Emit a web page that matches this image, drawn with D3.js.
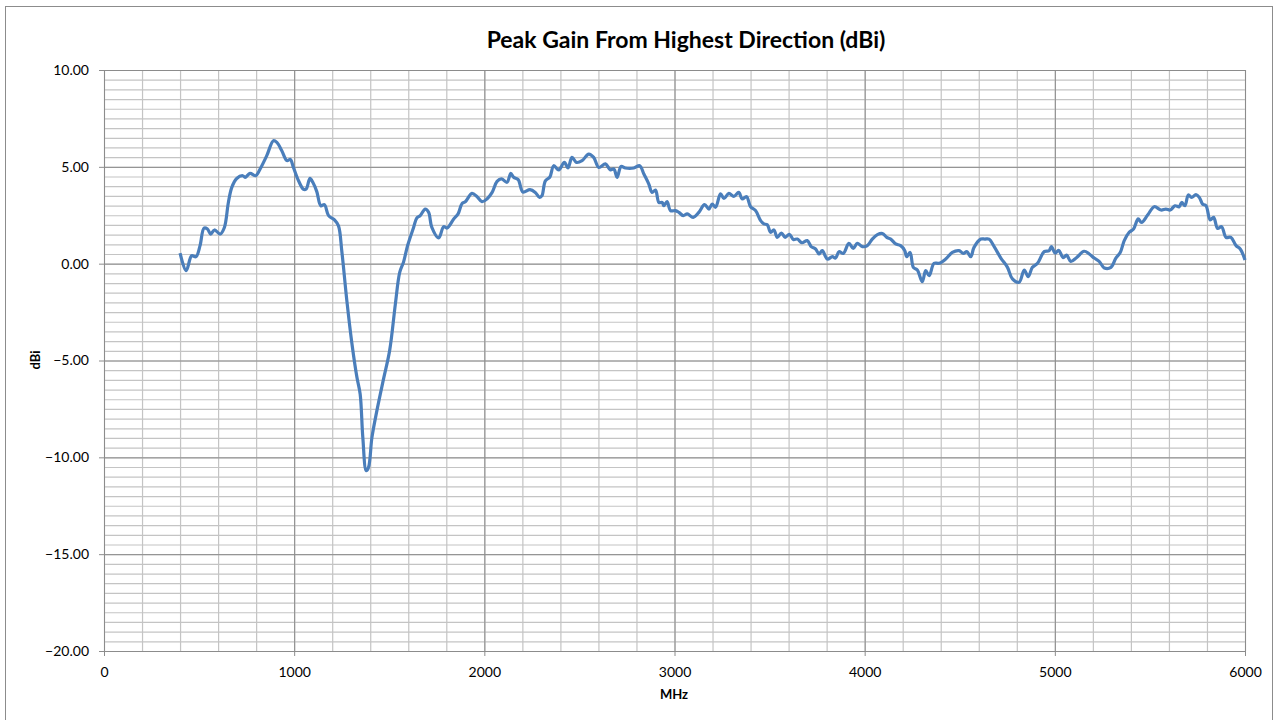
<!DOCTYPE html>
<html>
<head>
<meta charset="utf-8">
<script src="https://cdn.jsdelivr.net/npm/d3@7"></script>
<style>
    body { margin: 0; background: #fff; }
    svg { display: block; font-family: Lato, "Open Sans", sans-serif; }
    .tick text { font-size: 14px; fill: #000; }
</style>
</head>
<body>
<div id="chart"></div>
<script>
// data
const title = 'Peak Gain From Highest Direction (dBi)';
const xLabel = 'MHz';
const yLabel = 'dBi';
const xTicks = [0, 1000, 2000, 3000, 4000, 5000, 6000];
const yTicks = [10, 5, 0, -5, -10, -15, -20];

const freq = [
    400, 432, 461, 484, 505, 526, 544, 561, 581, 611, 633, 654, 672, 698, 730, 742, 768, 798, 821, 856,
    891, 909, 935, 962, 980, 996, 1023, 1049, 1063, 1083, 1098, 1119, 1140, 1159, 1181, 1212, 1233, 1251, 1277, 1304,
    1330, 1347, 1361, 1379, 1391, 1409, 1435, 1470, 1502, 1532, 1555, 1575, 1597, 1628, 1645, 1663, 1689, 1707, 1724, 1760,
    1786, 1804, 1839, 1862, 1883, 1900, 1935, 1962, 1988, 2014, 2041, 2067, 2090, 2119, 2139, 2154, 2178, 2203, 2240, 2268,
    2291, 2303, 2321, 2344, 2365, 2391, 2421, 2440, 2461, 2484, 2514, 2549, 2575, 2602, 2637, 2663, 2681, 2698, 2719, 2742,
    2786, 2817, 2839, 2865, 2882, 2900, 2918, 2935, 2944, 2961, 2979, 3005, 3023, 3046, 3067, 3098, 3128, 3158, 3181, 3198,
    3216, 3242, 3260, 3286, 3312, 3338, 3356, 3379, 3400, 3426, 3453, 3470, 3488, 3505, 3523, 3540, 3562, 3582, 3604, 3625,
    3646, 3670, 3698, 3719, 3742, 3760, 3777, 3804, 3830, 3847, 3865, 3888, 3917, 3940, 3961, 3988, 4014, 4040, 4067, 4093,
    4116, 4137, 4163, 4189, 4211, 4221, 4239, 4256, 4277, 4303, 4321, 4339, 4365, 4391, 4426, 4461, 4496, 4519, 4537, 4558,
    4575, 4611, 4632, 4654, 4681, 4716, 4751, 4777, 4812, 4839, 4860, 4882, 4909, 4944, 4970, 4982, 5002, 5020, 5044, 5062,
    5084, 5115, 5154, 5181, 5207, 5233, 5260, 5295, 5321, 5344, 5365, 5391, 5414, 5438, 5456, 5488, 5523, 5558, 5584, 5607,
    5632, 5654, 5667, 5684, 5702, 5719, 5742, 5760, 5777, 5795, 5817, 5835, 5856, 5877, 5900, 5926, 5953, 5975, 6000
];
const gain = [
    0.55, -0.36, 0.41, 0.36, 0.93, 1.84, 1.79, 1.53, 1.74, 1.53, 1.87, 3.16, 3.94, 4.40, 4.54, 4.46, 4.66, 4.54, 4.89, 5.58,
    6.35, 6.26, 5.83, 5.32, 5.38, 4.97, 4.28, 3.84, 3.86, 4.40, 4.20, 3.72, 2.99, 3.05, 2.48, 2.26, 1.95, 0.60, -1.91, -4.15,
    -5.87, -6.73, -8.97, -10.69, -10.52, -8.97, -7.59, -5.95, -4.49, -2.10, -0.45, 0.08, 0.95, 1.87, 2.36, 2.48, 2.82, 2.65, 1.87, 1.33,
    1.91, 1.84, 2.31, 2.57, 3.11, 3.20, 3.63, 3.46, 3.20, 3.34, 3.68, 4.25, 4.38, 4.20, 4.66, 4.46, 4.34, 3.70, 3.82, 3.68,
    3.42, 3.51, 4.28, 4.46, 5.06, 4.84, 5.23, 4.94, 5.49, 5.23, 5.32, 5.66, 5.49, 4.97, 5.15, 4.84, 4.89, 4.46, 5.02, 4.94,
    4.94, 5.06, 4.63, 4.11, 3.68, 3.80, 3.16, 3.16, 2.99, 3.20, 2.74, 2.74, 2.65, 2.48, 2.57, 2.39, 2.65, 3.05, 2.82, 3.08,
    2.91, 3.60, 3.37, 3.63, 3.47, 3.68, 3.34, 3.46, 2.94, 2.74, 2.22, 2.05, 2.01, 1.62, 1.74, 1.36, 1.58, 1.36, 1.52, 1.25,
    1.27, 1.08, 1.19, 0.88, 0.76, 0.50, 0.67, 0.24, 0.36, 0.29, 0.62, 0.53, 1.05, 0.79, 1.05, 0.88, 0.93, 1.27, 1.50, 1.56,
    1.36, 1.27, 1.02, 0.93, 0.67, 0.36, 0.58, -0.19, -0.33, -0.93, -0.36, -0.62, 0.02, 0.02, 0.24, 0.58, 0.67, 0.53, 0.62, 0.36,
    0.84, 1.27, 1.27, 1.27, 0.88, 0.29, -0.19, -0.79, -0.96, -0.33, -0.67, -0.19, 0.02, 0.62, 0.67, 0.88, 0.55, 0.69, 0.31, 0.44,
    0.12, 0.32, 0.64, 0.50, 0.29, 0.12, -0.22, -0.19, 0.29, 0.58, 1.19, 1.62, 1.79, 2.31, 2.13, 2.51, 2.94, 2.77, 2.82, 2.77,
    2.99, 2.94, 3.16, 2.99, 3.55, 3.42, 3.56, 3.42, 3.08, 2.99, 2.26, 2.39, 1.82, 1.91, 1.36, 1.36, 0.93, 0.76, 0.19
];

const width = 1273;
const height = 720;
const margin = {top: 70, right: 28, bottom: 69, left: 104};

function drawChart() {
    const svg = d3.select('#chart')
        .append('svg')
        .attr('width', width)
        .attr('height', height);

    // outer chart frame
    svg.append('rect')
        .attr('x', 5.5).attr('y', 6.5)
        .attr('width', width - 6).attr('height', height)
        .attr('fill', 'none')
        .attr('stroke', '#8c8c8c');

    const xScale = d3.scaleLinear()
        .domain([0, 6000])
        .range([margin.left, width - margin.right]);
    const yScale = d3.scaleLinear()
        .domain([-20, 10])
        .range([height - margin.bottom, margin.top]);

    const plotW = width - margin.right - margin.left;
    const plotH = height - margin.bottom - margin.top;

    // minor gridlines: every 200 MHz and every 0.5 dB
    svg.append('g')
        .attr('transform', `translate(0,${height - margin.bottom})`)
        .call(d3.axisBottom(xScale).tickValues(d3.range(0, 6001, 200)).tickFormat('').tickSize(-plotH))
        .call(g => g.select('.domain').remove())
        .call(g => g.selectAll('line').attr('stroke', '#c4c4c4').attr('stroke-width', 1.2));
    svg.append('g')
        .attr('transform', `translate(${margin.left},0)`)
        .call(d3.axisLeft(yScale).tickValues(d3.range(-20, 10.01, 0.5)).tickFormat('').tickSize(-plotW))
        .call(g => g.select('.domain').remove())
        .call(g => g.selectAll('line').attr('stroke', '#c4c4c4').attr('stroke-width', 1.2));

    // major gridlines
    svg.append('g')
        .attr('transform', `translate(0,${height - margin.bottom})`)
        .call(d3.axisBottom(xScale).tickValues(xTicks).tickFormat('').tickSize(-plotH))
        .call(g => g.select('.domain').remove())
        .call(g => g.selectAll('line').attr('stroke', '#8c8c8c'));
    svg.append('g')
        .attr('transform', `translate(${margin.left},0)`)
        .call(d3.axisLeft(yScale).tickValues(yTicks).tickFormat('').tickSize(-plotW))
        .call(g => g.select('.domain').remove())
        .call(g => g.selectAll('line').attr('stroke', '#8c8c8c'));

    // axes with labels
    const xAxis = svg.append('g')
        .attr('transform', `translate(0,${height - margin.bottom})`)
        .call(d3.axisBottom(xScale).tickValues(xTicks).tickFormat(d3.format('d')).tickSize(5).tickPadding(11));
    const yAxis = svg.append('g')
        .attr('transform', `translate(${margin.left},0)`)
        .call(d3.axisLeft(yScale).tickValues(yTicks).tickFormat(d3.format('.2f')).tickSize(5).tickPadding(10));
    [xAxis, yAxis].forEach(a => {
        a.selectAll('.domain, line').attr('stroke', '#8c8c8c');
        a.selectAll('text').style('font-family', 'Lato, sans-serif').style('font-size', '14px');
    });

    // the curve
    const line = d3.line()
        .x((d, i) => xScale(freq[i]))
        .y((d) => yScale(d))
        .curve(d3.curveCatmullRom.alpha(0.5));

    svg.append('path')
        .datum(gain)
        .attr('d', line)
        .attr('fill', 'none')
        .attr('stroke', '#4a7ebb')
        .attr('stroke-width', 3.2)
        .attr('stroke-linejoin', 'round');

    // texts
    svg.append('text')
        .attr('x', 686).attr('y', 48)
        .attr('text-anchor', 'middle')
        .style('font-size', '23px').style('font-weight', 'bold')
        .text(title);

    svg.append('text')
        .attr('x', 674).attr('y', 699)
        .attr('text-anchor', 'middle')
        .style('font-size', '13px').style('font-weight', 'bold')
        .text(xLabel);

    svg.append('text')
        .attr('transform', 'translate(40,360) rotate(-90)')
        .attr('text-anchor', 'middle')
        .style('font-size', '13px').style('font-weight', 'bold')
        .text(yLabel);
}

drawChart();
</script>
</body>
</html>
